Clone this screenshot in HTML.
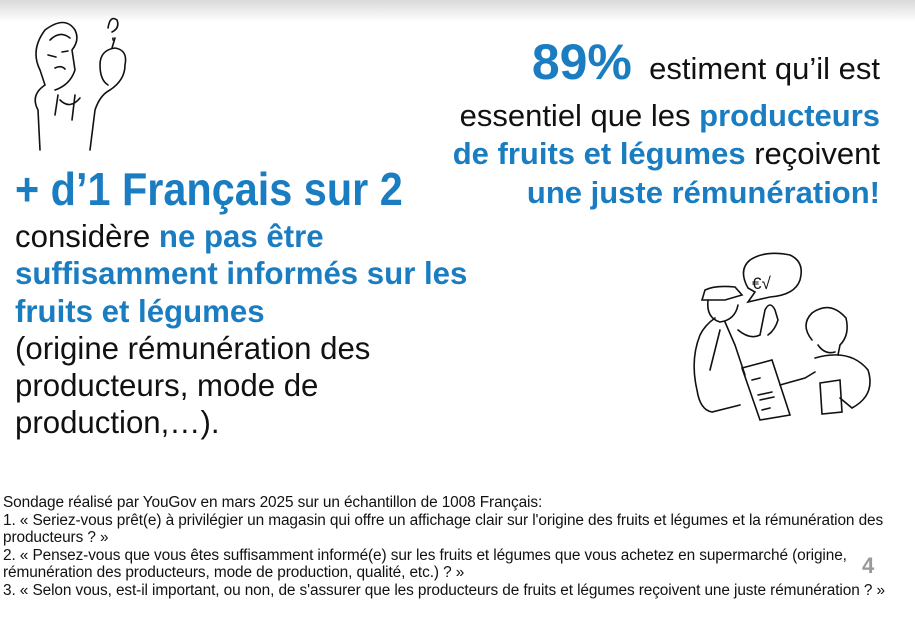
<!DOCTYPE html>
<html><head><meta charset="utf-8">
<style>
body{margin:0;width:915px;height:636px;background:#fff;overflow:hidden;position:relative;font-family:"Liberation Sans",sans-serif;color:#111}
.shadow{position:absolute;left:0;top:0;width:915px;height:22px;background:linear-gradient(#d9d9d9,#f4f4f4 70%,#fff)}
.b{color:#1a7dc2;font-weight:bold}
.r{position:absolute;right:35px;text-align:right;white-space:nowrap;font-size:31px;line-height:38px}
.l{position:absolute;left:15px;white-space:nowrap}
.foot{position:absolute;left:3px;top:494px;font-size:15.4px;line-height:17.6px;white-space:nowrap;color:#111;letter-spacing:-0.1px}
</style></head><body>
<div class="shadow"></div>
<div class="r" style="top:36px;line-height:52px"><span class="b" style="font-size:50px">89%</span>&nbsp; estiment qu’il est</div>
<div class="r" style="top:97px">essentiel que les <span class="b">producteurs</span></div>
<div class="r" style="top:135px"><span class="b">de fruits et légumes</span> reçoivent</div>
<div class="r" style="top:174px"><span class="b">une juste rémunération!</span></div>
<div class="l b" style="top:163px;font-size:46px;line-height:52px;transform:scaleX(0.9);transform-origin:0 0">+ d’1 Français sur 2</div>
<div class="l" style="top:218px;font-size:31.2px;line-height:37.3px">considère <span class="b">ne pas être<br>suffisamment informés sur les<br>fruits et légumes</span><br>(origine rémunération des<br>producteurs, mode de<br>production,…).</div>
<div class="foot">Sondage réalisé par YouGov en mars 2025 sur un échantillon de 1008 Français:<br>1. « Seriez-vous prêt(e) à privilégier un magasin qui offre un affichage clair sur l'origine des fruits et légumes et la rémunération des<br>producteurs ? »<br>2. « Pensez-vous que vous êtes suffisamment informé(e) sur les fruits et légumes que vous achetez en supermarché (origine,<br>rémunération des producteurs, mode de production, qualité, etc.) ? »<br>3. « Selon vous, est-il important, ou non, de s'assurer que les producteurs de fruits et légumes reçoivent une juste rémunération ? »</div>
<div style="position:absolute;left:862px;top:553px;font-size:22px;font-weight:bold;color:#999">4</div>
<svg style="position:absolute;left:0;top:0" width="915" height="636" fill="none" stroke="#111" stroke-width="1.6" stroke-linecap="round">
<path d="M40 150 L38 110 Q30 95 45 85 L40 70 Q30 50 45 30 Q65 15 75 30 Q80 40 72 50 L75 70 Q70 85 55 90"/>
<path d="M50 40 Q60 30 70 38 M48 55 l8 2 M62 52 l6 -1 M55 68 q6 -3 10 1"/>
<path d="M90 150 L95 110 Q100 95 110 90 Q125 80 125 65 Q128 50 115 48 Q100 50 100 65 Q100 80 108 85"/>
<path d="M112 48 L115 38 M58 95 L55 115 M75 95 L72 120 M60 100 Q70 110 80 98"/>
<path d="M108 28 Q110 15 117 20 Q120 28 112 32 M113 38 l0 2"/>
<path d="M748 288 Q738 270 750 260 Q765 250 790 255 Q805 262 800 280 Q795 295 770 297 L748 302 L755 292 Z"/>
<text x="752" y="289" font-size="17" fill="#111" stroke="none" font-family="Liberation Sans">€√</text>
<path d="M702 300 L705 290 Q715 285 735 287 L742 295 L725 300 Z"/>
<path d="M708 300 Q706 318 720 322 Q735 320 738 305"/>
<path d="M715 318 Q705 325 700 335 Q690 360 697 390 Q700 410 712 412 L740 405"/>
<path d="M725 322 L735 345 L745 375 M720 330 L710 370"/>
<path d="M738 330 Q750 340 760 335 L765 310 Q770 300 775 310 L778 320 Q775 330 768 335"/>
<path d="M742 368 L772 360 L790 415 L760 420 Z M752 380 l8 -2 M758 395 l14 -3 M760 400 l14 -3 M762 410 l8 -2"/>
<path d="M812 340 Q800 325 812 313 Q830 300 846 318 Q850 335 840 345 L838 355"/>
<path d="M818 345 Q825 355 835 352"/>
<path d="M780 385 L805 378 L815 372 M815 358 Q850 348 868 370 Q876 395 852 408 L840 398"/>
<path d="M820 383 L840 380 L842 412 L822 414 Z"/>
</svg>
</body></html>
